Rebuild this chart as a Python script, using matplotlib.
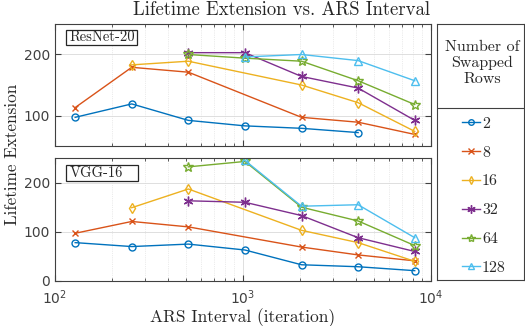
import matplotlib
matplotlib.use("Agg")
import matplotlib.pyplot as plt
from matplotlib.ticker import LogLocator, NullFormatter, FixedLocator
from matplotlib.patches import Rectangle
from matplotlib.lines import Line2D

x_all = [128, 256, 512, 1024, 2048, 4096, 8192]
series_names = ["2", "8", "16", "32", "64", "128"]

# ResNet-20 panel
res_x = {
    "2": [128, 256, 512, 1024, 2048, 4096],
    "8": [128, 256, 512, 2048, 4096, 8192],
    "16": [256, 512, 2048, 4096, 8192],
    "32": [512, 1024, 2048, 4096, 8192],
    "64": [512, 1024, 2048, 4096, 8192],
    "128": [1024, 2048, 4096, 8192],
}
res_y = {
    "2": [97, 119, 92, 83, 79, 72],
    "8": [113, 179, 171, 97, 89, 69],
    "16": [183, 189, 150, 121, 74],
    "32": [203, 203, 164, 145, 92],
    "64": [200, 194, 189, 157, 118],
    "128": [196, 200, 190, 157],
}
# VGG-16 panel
vgg_x = {
    "2": [128, 256, 512, 1024, 2048, 4096, 8192],
    "8": [128, 256, 512, 2048, 4096, 8192],
    "16": [256, 512, 2048, 4096, 8192],
    "32": [512, 1024, 2048, 4096, 8192],
    "64": [512, 1024, 2048, 4096, 8192],
    "128": [1024, 2048, 4096, 8192],
}
vgg_y = {
    "2": [78, 70, 75, 63, 33, 29, 21],
    "8": [97, 121, 110, 69, 53, 41],
    "16": [149, 187, 103, 78, 40],
    "32": [163, 160, 133, 88, 60],
    "64": [232, 243, 150, 122, 72],
    "128": [245, 152, 155, 88],
}

colors = ["#0072BD", "#D95319", "#EDB120", "#7E2F8E", "#77AC30", "#4DBEEE"]
asterisk = (6, 2, 0)
markers = ["o", "x", "d", asterisk, "*", "^"]
msizes = [5, 5, 5, 7, 7, 6]

W, H = 525, 326
fig = plt.figure(figsize=(W / 100, H / 100), dpi=100)

def box(l, r, t, b):
    return [l / W, 1 - b / H, (r - l) / W, (b - t) / H]

serif = "cmr10"
txtc = "#262626"
tickc = "#404040"

ax1 = fig.add_axes(box(55, 431, 24, 146))
ax2 = fig.add_axes(box(55, 431, 158, 281))

for ax, dx, dy, ylim, yt, lab, lbox in [
    (ax1, res_x, res_y, (50, 250), [100, 200], "ResNet-20", (66, 137, 30, 45)),
    (ax2, vgg_x, vgg_y, (0, 250), [0, 100, 200], "VGG-16", (66, 138, 165, 181)),
]:
    for i, s in enumerate(series_names):
        ax.plot(dx[s], dy[s], color=colors[i], marker=markers[i], ms=msizes[i],
                mfc="none", mew=1.0, lw=1.0, label=s)
    ax.set_xscale("log")
    ax.set_xlim(100, 10000)
    ax.set_ylim(*ylim)
    ax.yaxis.set_major_locator(FixedLocator(yt))
    ax.xaxis.set_major_locator(LogLocator(base=10))
    ax.xaxis.set_minor_locator(LogLocator(base=10, subs=range(2, 10)))
    ax.xaxis.set_minor_formatter(NullFormatter())
    ax.grid(True, which="major", color="#d9d9d9", lw=0.6)
    ax.grid(True, which="minor", axis="x", color="#d9d9d9", lw=0.5, ls=":")
    ax.set_axisbelow(True)
    ax.tick_params(which="both", direction="in", top=True, right=True,
                   colors=tickc, labelsize=10)
    ax.tick_params(which="major", length=4)
    ax.tick_params(which="minor", length=2)
    ax.tick_params(axis="x", pad=5)
    for sp in ax.spines.values():
        sp.set_color(tickc)
        sp.set_linewidth(0.8)
    l, r, t, b = lbox
    fig.add_artist(Rectangle((l / W, 1 - b / H), (r - l) / W, (b - t) / H,
                             transform=fig.transFigure, fc="white", ec="#262626",
                             lw=0.9, zorder=5))
    fig.text((l + 3.5) / W, 1 - (t + b) / 2 / H, lab, va="center", ha="left",
             fontsize=10.5, family=serif, color=txtc, zorder=6)

ax1.tick_params(labelbottom=False)
ax2.set_xlabel("ARS Interval (iteration)", family=serif, fontsize=12.5, color=txtc, labelpad=1)
fig.text(12 / W, 1 - 154 / H, "Lifetime Extension", rotation=90, va="center", ha="center",
         family=serif, fontsize=12.3, color=txtc)
fig.text(282 / W, 1 - 10 / H, "Lifetime Extension vs. ARS Interval", va="center", ha="center",
         family=serif, fontsize=13.5, color=txtc)

# legend
axl = fig.add_axes(box(437, 524, 24, 280))
axl.set_xlim(0, 1)
axl.set_ylim(0, 1)
axl.set_xticks([])
axl.set_yticks([])
for sp in axl.spines.values():
    sp.set_color(tickc)
    sp.set_linewidth(0.8)
div = (108 - 24) / (280 - 24)
axl.axhline(1 - div, color=tickc, lw=0.8)
axl.text(0.52, 1 - (63 - 24) / 256, "Number of\nSwapped\nRows", ha="center", va="center",
         family=serif, fontsize=11.5, color=txtc, linespacing=1.2)
handles = [Line2D([], [], color=colors[i], marker=markers[i], ms=msizes[i] - 1, mfc="none",
                  mew=1.0, lw=1.0) for i in range(6)]
leg = axl.legend(handles, series_names, loc="upper left",
                 bbox_to_anchor=((462 - 437) / 87, 1 - (116.5 - 24) / 256),
                 frameon=False, borderpad=0, borderaxespad=0,
                 handlelength=1.1, handletextpad=0.15, labelspacing=0.92,
                 prop={"family": serif, "size": 11.5})
for t in leg.get_texts():
    t.set_color(txtc)

fig.savefig("out.png", dpi=100)
